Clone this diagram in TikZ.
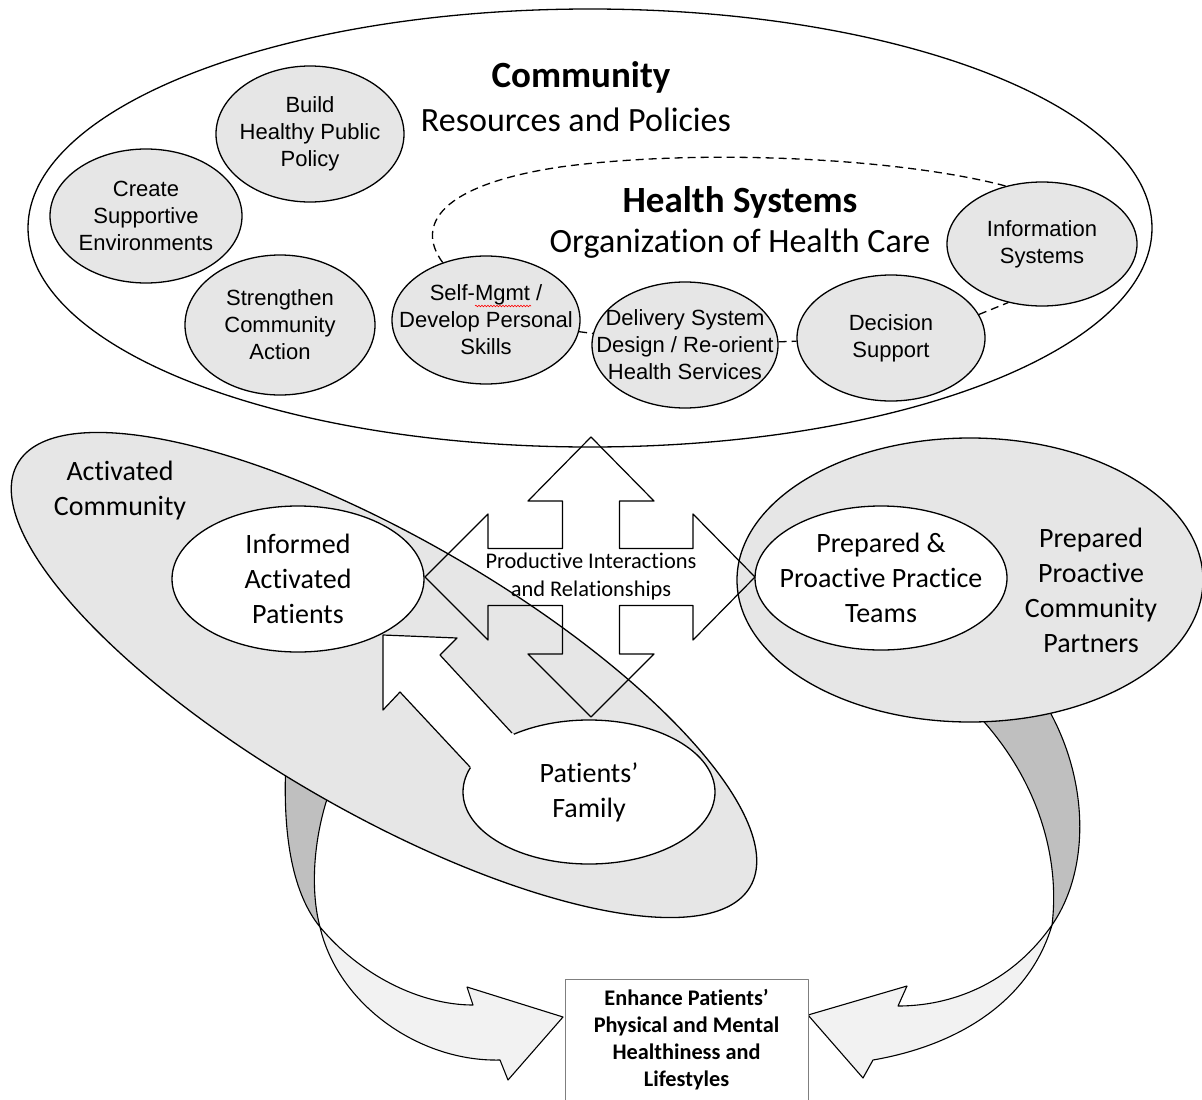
\documentclass[tikz,border=0pt]{standalone}
\usepackage{fontspec}
\setmainfont{Carlito}[Ligatures=NoCommon]
\newfontfamily\arialf{Liberation Sans}
\usetikzlibrary{shapes.geometric,decorations.pathmorphing,calc}
\definecolor{lightg}{HTML}{E6E6E6}
\definecolor{darkg}{HTML}{BFBFBF}
\definecolor{paleg}{HTML}{F2F2F2}
\definecolor{boxg}{HTML}{7F7F7F}
\begin{document}
\begin{tikzpicture}[x=1pt,y=-1pt,line join=round,
  outl/.style={draw=black,line width=1.3pt},
  smallell/.style={ellipse,outl,fill=lightg,inner sep=0pt},
  arialtxt/.style={align=center,inner sep=0pt,font=\arialf\fontsize{22}{27}\selectfont},
  whiteell/.style={ellipse,outl,fill=white,inner sep=0pt},
  grayell/.style={ellipse,outl,fill=lightg,inner sep=0pt},
  dashlink/.style={draw=black,line width=1.3pt,dash pattern=on 8pt off 5pt},
  bigtitle/.style={font=\bfseries\fontsize{37}{44}\selectfont,inner sep=0pt},
  subtitle/.style={font=\fontsize{34}{41}\selectfont,inner sep=0pt},
  lbl/.style={font=\fontsize{28}{35}\selectfont,align=center,inner sep=0pt},
  darkrib/.style={fill=darkg,draw=black,line width=1.1pt},
  palerib/.style={fill=paleg,draw=black,line width=1.1pt}]
\useasboundingbox (0,0) rectangle (1202,1100);
\clip (0,0) rectangle (1202,1100);

% Community ellipse
\node[ellipse,outl,fill=white,minimum width=1124pt,minimum height=438pt,inner sep=0pt] (commell) at (590,228) {};
\node[bigtitle] (commt) at (581,77) {Community};
\node[subtitle] (comms) at (576,120) {Resources and Policies};
\node[bigtitle] (hst) at (740,202) {Health Systems};
\node[subtitle] (hss) at (740,244) {Organization of Health Care};

% small ellipses
\node[smallell,minimum width=188pt,minimum height=136pt,label={[arialtxt]center:Build\\Healthy Public\\Policy}] (build) at (310,134) {};
\node[smallell,minimum width=192pt,minimum height=134pt,label={[arialtxt]center:Create\\Supportive\\Environments}] (create) at (146,216) {};
\node[smallell,minimum width=190pt,minimum height=140pt,label={[arialtxt]center:Strengthen\\Community\\Action}] (strength) at (280,325) {};
\node[smallell,minimum width=188pt,minimum height=128pt,label={[arialtxt]center:Self-Mgmt /\\Develop Personal\\Skills}] (self) at (486,320) {};
\node[smallell,minimum width=186pt,minimum height=126pt,label={[arialtxt]center:Delivery System\\Design / Re-orient\\Health Services}] (deliv) at (685,345) {};
\node[smallell,minimum width=188pt,minimum height=126pt,label={[arialtxt]center:Decision\\Support}] (dec) at (891,338) {};
\node[smallell,minimum width=190pt,minimum height=124pt,label={[arialtxt]center:Information\\Systems}] (info) at (1042,244) {};
\draw[red,line width=0.6pt,decorate,decoration={snake,amplitude=0.8pt,segment length=3pt}] (475,306) -- (531,306);

% dashed links (health systems boundary)
\draw[dashlink] (self.127) .. controls (415,225) and (440,185) .. (560,167)
   .. controls (700,148) and (900,158) .. (info.122);
\draw[dashlink] (self) -- (deliv);
\draw[dashlink] (deliv) -- (dec);
\draw[dashlink] (dec.15) -- (info.240);

% left curved arrow
\draw[darkrib] (286,760) .. controls (282,840) and (294,895) .. (320,927)
   .. controls (310,890) and (312,830) .. (337,772) -- cycle;
\draw[palerib] (320,927) .. controls (360,975) and (420,1005) .. (473,1005)
   -- (467,987) -- (563,1017) -- (508,1080) -- (500,1060)
   .. controls (420,1062) and (338,1005) .. (320,927) -- cycle;
% right curved arrow
\draw[darkrib] (1046,705) .. controls (1090,780) and (1090,870) .. (1052,925)
   .. controls (1060,860) and (1040,780) .. (975,712) -- cycle;
\draw[palerib] (1052,925) .. controls (1010,985) and (950,1006) .. (898,1006)
   -- (907,986) -- (808,1015) -- (863,1078) -- (873,1060)
   .. controls (960,1045) and (1030,1000) .. (1052,925) -- cycle;

% activated community ellipse
\node[grayell,minimum width=846pt,minimum height=274pt,rotate=-30] (actcomm) at (384,675) {};
\node[lbl] (actt) at (120,491) {Activated\\Community};
% prepared community partners ellipse
\node[grayell,minimum width=466pt,minimum height=284pt] (partners) at (970,580) {};
\node[lbl] (partt) at (1091,590) {Prepared\\Proactive\\Community\\Partners};

% white ellipses
\node[whiteell,minimum width=252pt,minimum height=146pt,label={[lbl]center:Informed\\Activated\\Patients}] (informed) at (298,579) {};
\node[whiteell,minimum width=252pt,minimum height=144pt,label={[lbl]center:Prepared \&\\Proactive Practice\\Teams}] (teams) at (881,578) {};
\node[whiteell,minimum width=252pt,minimum height=144pt] (family) at (589,792) {};

% white arrow family -> informed
\coordinate (wa1) at (512,733);
\coordinate (wa2) at (470,767);
\fill[white] (wa1) -- (440,655) -- (457,638) -- (383,635) -- (383,710) -- (400,692) -- (wa2) -- (495,790) -- (535,752) -- cycle;
\draw[outl,line width=1.2pt] (wa1) -- (440,655) -- (457,638) -- (383,635) -- (383,710) -- (400,692) -- (wa2);
\node[lbl] (familyt) at (family) {Patients’\\Family};

% four-way arrow
\coordinate (pi) at (591,577);
\draw[outl,line width=1.2pt] (591,437) -- (654,501) -- (619.5,501) -- (619.5,548.5) -- (693,548.5) -- (693,514)
  -- (755,577) -- (693,640) -- (693,605.5) -- (619.5,605.5) -- (619.5,654) -- (654,654)
  -- (591,717) -- (528,654) -- (562.5,654) -- (562.5,605.5) -- (488,605.5) -- (488,640)
  -- (425,577) -- (488,514) -- (488,548.5) -- (562.5,548.5) -- (562.5,501) -- (528,501) -- cycle;
\node[font=\fontsize{22.4}{28}\selectfont,align=center,inner sep=0pt] (prod) at (pi) {Productive Interactions\\and Relationships};

% outcome box
\node[draw=boxg,line width=1pt,fill=white,minimum width=243pt,minimum height=122pt,inner sep=0pt,align=center,
  font=\bfseries\fontsize{22.3}{27}\selectfont] (outcome) at (686.5,1040) {Enhance Patients’\\Physical and Mental\\Healthiness and\\Lifestyles};
\end{tikzpicture}
\end{document}
